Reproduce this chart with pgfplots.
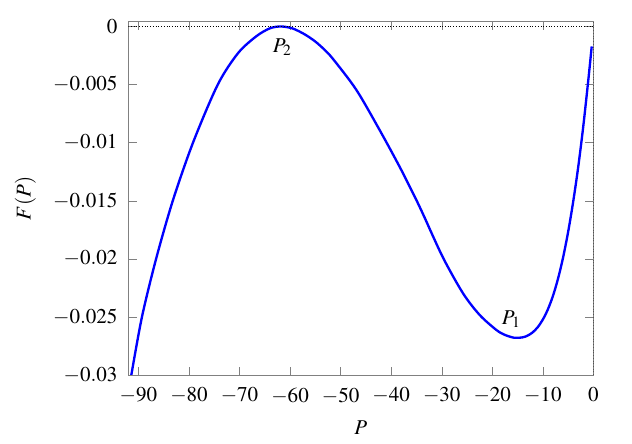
\documentclass[border=0pt]{standalone}
\usepackage{mathptmx}
\usepackage{pgfplots}
\pgfplotsset{compat=1.18}

% F(P)
\pgfplotstableread{
P F
-91.4 -0.0300
-89.3 -0.0250
-86.5 -0.0200
-83.2 -0.0150
-79.2 -0.0100
-74.3 -0.0050
-70.3 -0.00230
-66.7 -0.00085
-64.0 -0.00016
-61.8 0.00000
-59.5 -0.00017
-57.1 -0.00068
-55.0 -0.00130
-53.2 -0.00200
-51.5 -0.00280
-46.9 -0.00545
-42.3 -0.00890
-38.3 -0.01210
-35.4 -0.01460
-33.7 -0.01615
-29.8 -0.01985
-25.8 -0.02296
-22.5 -0.02483
-19.2 -0.02612
-17.5 -0.02655
-15.6 -0.02680
-14.0 -0.02676
-13.0 -0.02661
-12.0 -0.02633
-11.0 -0.02588
-10.0 -0.02523
-9.0 -0.02435
-8.0 -0.02320
-7.0 -0.02172
-6.0 -0.01990
-5.0 -0.01770
-4.0 -0.01510
-3.0 -0.01210
-2.0 -0.00860
-1.0 -0.00460
-0.33 -0.00172
}\curve

\begin{document}
\begin{tikzpicture}[font=\fontsize{10.8}{13}\selectfont]
\path[use as bounding box] (-65.8pt,-34.9pt) rectangle (258.3pt,192.3pt);
\begin{axis}[
    scale only axis,
    width=238.5pt, height=181.4pt,
    xmin=-92, xmax=0,
    ymin=-0.03, ymax=0.00045,
    xtick={-90,-80,...,0},
    ytick={-0.03,-0.025,...,0},
    yticklabels={$-0.03$,$-0.025$,$-0.02$,$-0.015$,$-0.01$,$-0.005$,$0$},
    scaled y ticks=false,
    xticklabel shift=3pt,
    yticklabel shift=2pt,
    axis line style={gray},
    tick style={gray},
    xlabel={$P$}, ylabel={$F(P)$},
    xlabel style={yshift=-2pt},
    ylabel style={yshift=2pt},
]
\addplot[blue, line width=1.2pt, smooth] table[x=P, y=F] {\curve};
\addplot[black, densely dotted, thin] coordinates {(-92,0) (0,0)};
\addplot[black, densely dotted, thin] coordinates {(0,-0.03) (0,0.00045)};
\node at (axis cs:-61.5,-0.0018) {$P_2$};
\node at (axis cs:-16.2,-0.0252) {$P_1$};
\end{axis}
\end{tikzpicture}
\end{document}
